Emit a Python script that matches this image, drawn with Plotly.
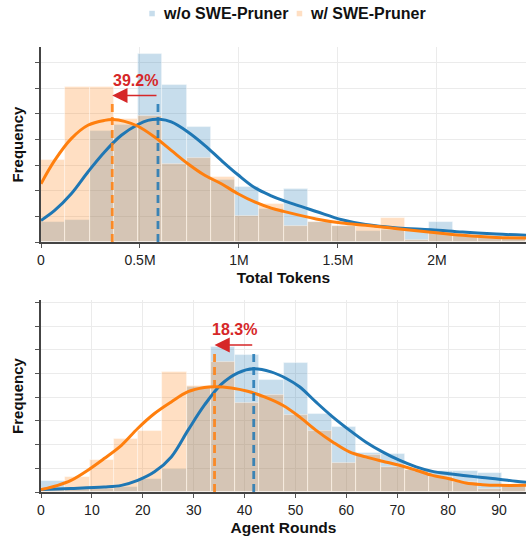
import plotly.graph_objects as go
from plotly.subplots import make_subplots

# ---------------- data ----------------
# Total Tokens histogram (20 bins, starting at 0)
tok_bin_start = 0.0
tok_bin_width = 122500.0
tok_wo = [0.78, 0.84, 4.32, 4.55, 7.31, 6.10, 4.47, 2.40, 2.13, 1.27,
          2.06, 0.79, 0.62, 0.44, 0.48, 0.48, 0.78, 0.25, 0.22, 0.15]
tok_w = [3.18, 6.06, 6.06, 4.81, 4.90, 3.03, 3.26, 2.53, 1.00, 1.49,
         0.61, 0.77, 0.61, 0.61, 0.93, 0.09, 0.35, 0.22, 0.20, 0.15]

# KDE curves
tok_kde_wo_x = [0, 69e3, 153e3, 237e3, 321e3, 406e3, 490e3, 540e3, 600e3, 658e3, 742e3, 827e3,
                911e3, 995e3, 1079e3, 1163e3, 1222e3, 1390e3, 1520e3, 1640e3, 1800e3, 1970e3,
                2130e3, 2300e3, 2450e3]
tok_kde_wo_y = [0.84, 1.23, 1.88, 2.73, 3.51, 4.16, 4.58, 4.74, 4.78, 4.68, 4.29, 3.77,
                3.18, 2.62, 2.12, 1.80, 1.62, 1.19, 0.87, 0.68, 0.55, 0.48,
                0.39, 0.31, 0.26]
tok_kde_w_x = [0, 69e3, 153e3, 237e3, 321e3, 363e3, 422e3, 490e3, 574e3, 658e3, 742e3, 827e3,
               911e3, 995e3, 1079e3, 1163e3, 1222e3, 1390e3, 1520e3, 1640e3, 1800e3, 1970e3,
               2130e3, 2300e3, 2450e3]
tok_kde_w_y = [2.27, 3.18, 4.03, 4.55, 4.74, 4.77, 4.70, 4.51, 4.09, 3.57, 3.05, 2.60,
               2.27, 1.88, 1.56, 1.32, 1.20, 0.90, 0.74, 0.65, 0.52, 0.38,
               0.26, 0.18, 0.16]
tok_median_wo = 591000
tok_median_w = 360000
tok_label = "39.2%"
tok_ticks = [0, 500000, 1000000, 1500000, 2000000]
tok_ticktext = ["0", "0.5M", "1M", "1.5M", "2M"]

# Agent Rounds histogram (20 bins, starting at 0)
rnd_bin_start = 0.0
rnd_bin_width = 4.765
rnd_wo = [0.45, 0.11, 0.14, 0.21, 0.54, 0.96, 4.44, 6.11, 5.77, 4.72,
          5.45, 3.31, 2.75, 1.66, 1.59, 0.94, 0.87, 0.87, 0.79, 0.30]
rnd_w = [0.15, 0.63, 1.37, 2.23, 2.56, 5.06, 4.46, 5.49, 3.76, 4.08,
         3.24, 2.58, 1.23, 1.55, 1.06, 0.94, 0.63, 0.42, 0.11, 0.28]
rnd_kde_wo_x = [0, 5.9, 12.4, 15.8, 19.0, 22.3, 25.6, 28.9, 32.1, 35.4, 38.7, 41.8, 45.2,
                48.2, 50.8, 54.0, 57.3, 60.6, 63.8, 67.1, 70.4, 73.7, 76.9, 80.2, 83.5,
                86.7, 90.0, 93.3, 95.3]
rnd_kde_wo_y = [0.11, 0.15, 0.21, 0.28, 0.49, 0.85, 1.48, 2.61, 3.66, 4.54, 5.03, 5.20, 5.07,
                4.79, 4.44, 3.80, 3.17, 2.61, 2.11, 1.69, 1.34, 1.06, 0.87, 0.77, 0.69,
                0.61, 0.54, 0.45, 0.41]
rnd_kde_w_x = [0, 3.3, 5.9, 9.2, 12.4, 15.8, 19.0, 22.3, 25.6, 28.9, 32.1, 34.1, 37.4, 40.6,
               43.9, 47.5, 50.8, 54.0, 57.3, 60.6, 63.8, 67.1, 70.4, 73.7, 76.9, 80.2,
               83.5, 86.7, 90.0, 95.3]
rnd_kde_w_y = [0.10, 0.28, 0.49, 0.92, 1.41, 1.97, 2.68, 3.31, 3.80, 4.23, 4.41, 4.44, 4.39, 4.25,
               4.01, 3.66, 3.17, 2.61, 2.11, 1.69, 1.48, 1.30, 1.13, 0.92, 0.70, 0.56,
               0.38, 0.31, 0.28, 0.28]
rnd_median_wo = 41.8
rnd_median_w = 34.1
rnd_label = "18.3%"
rnd_ticks = [0, 10, 20, 30, 40, 50, 60, 70, 80, 90]

series_names = ["w/o SWE-Pruner", "w/ SWE-Pruner"]

# ---------------- styling ----------------
BLUE = "#1f77b4"
ORANGE = "#ff7f0e"
RED = "#d62728"
BLUE_FILL = "rgba(31,119,180,0.25)"
ORANGE_FILL = "rgba(255,127,14,0.25)"
FONT = "Liberation Sans, Arial, sans-serif"

W, H = 526, 538
ML, MR, MT, MB = 41, 0, 47, 46
PW, PH = W - ML - MR, H - MT - MB

fig = make_subplots(rows=2, cols=1, vertical_spacing=0.0)


def add_panel(row, start, width, wo, w, kx_wo, ky_wo, kx_w, ky_w,
              med_wo, med_w, dash_top, arrow_y, label, label_y):
    centers = [start + width * (i + 0.5) for i in range(len(wo))]
    for vals, fill in ((wo, BLUE_FILL), (w, ORANGE_FILL)):
        fig.add_trace(go.Bar(x=centers, y=vals, width=width,
                             marker=dict(color=fill,
                                         line=dict(color="rgba(255,255,255,0.5)", width=0.8)),
                             showlegend=False, hoverinfo="skip"), row=row, col=1)
    for kx, ky, col in ((kx_wo, ky_wo, BLUE), (kx_w, ky_w, ORANGE)):
        fig.add_trace(go.Scatter(x=kx, y=ky, mode="lines",
                                 line=dict(color=col, width=3, shape="spline", smoothing=1.0),
                                 showlegend=False, hoverinfo="skip"), row=row, col=1)
    for m, col in ((med_wo, "rgba(31,119,180,0.85)"), (med_w, "rgba(255,127,14,0.85)")):
        fig.add_trace(go.Scatter(x=[m, m], y=[0, dash_top], mode="lines",
                                 line=dict(color=col, width=2.8, dash="8px,5px"),
                                 showlegend=False, hoverinfo="skip"), row=row, col=1)
    xr = "x" if row == 1 else "x2"
    yr = "y" if row == 1 else "y2"
    fig.add_annotation(x=med_w, y=arrow_y, ax=med_wo, ay=arrow_y,
                       xref=xr, yref=yr, axref=xr, ayref=yr,
                       text="", showarrow=True, arrowhead=2, arrowsize=1.9,
                       arrowwidth=1.6, arrowcolor=RED, standoff=0, startstandoff=0)
    fig.add_annotation(x=(med_w + med_wo) / 2, y=label_y, xref=xr, yref=yr,
                       text="<b>%s</b>" % label, showarrow=False,
                       font=dict(family=FONT, size=16, color=RED))


add_panel(1, tok_bin_start, tok_bin_width, tok_wo, tok_w,
          tok_kde_wo_x, tok_kde_wo_y, tok_kde_w_x, tok_kde_w_y,
          tok_median_wo, tok_median_w, 5.52, 5.71, tok_label, 6.3)
add_panel(2, rnd_bin_start, rnd_bin_width, rnd_wo, rnd_w,
          rnd_kde_wo_x, rnd_kde_wo_y, rnd_kde_w_x, rnd_kde_w_y,
          rnd_median_wo, rnd_median_w, 5.99, 6.2, rnd_label, 6.87)

# legend drawn as small squares + bold labels (pixel positions -> paper coords)
def px_x(p):
    return (p - ML) / PW


def px_y(p):
    return 1 - (p - MT) / PH


legend_items = [(series_names[0], BLUE_FILL, 149.3, 161), (series_names[1], ORANGE_FILL, 296.7, 308)]
for name, fill, sq_left, txt_left in legend_items:
    fig.add_shape(type="rect", xref="paper", yref="paper",
                  x0=px_x(sq_left), x1=px_x(sq_left + 5.5), y0=px_y(16.3), y1=px_y(10.8),
                  fillcolor=fill, line=dict(width=0))
    fig.add_annotation(xref="paper", yref="paper", x=px_x(txt_left), y=px_y(13.5),
                       xanchor="left", yanchor="middle", showarrow=False,
                       text="<b>%s</b>" % name,
                       font=dict(family=FONT, size=16, color="#111"))

axis_common = dict(showline=True, linecolor="#444", linewidth=1.5,
                   showgrid=True, gridcolor="#ebebeb", gridwidth=1,
                   ticks="outside", ticklen=4, tickcolor="#555", tickwidth=1,
                   zeroline=False, mirror=False, automargin=False,
                   tickfont=dict(family=FONT, size=14, color="#222"))

fig.update_xaxes(**axis_common)
fig.update_yaxes(**axis_common)

fig.update_xaxes(row=1, col=1, range=[0, 2450000], tickvals=tok_ticks, ticktext=tok_ticktext,
                 title=dict(text="<b>Total Tokens</b>", standoff=6,
                            font=dict(family=FONT, size=15.5, color="#111")))
fig.update_xaxes(row=2, col=1, range=[0, 95.3], tickvals=rnd_ticks,
                 title=dict(text="<b>Agent Rounds</b>", standoff=6,
                            font=dict(family=FONT, size=15.5, color="#111")))
fig.update_yaxes(row=1, col=1, range=[0, 7.6], dtick=1, showticklabels=False,
                 title=dict(text="<b>Frequency</b>", standoff=8,
                            font=dict(family=FONT, size=15, color="#111")))
fig.update_yaxes(row=2, col=1, range=[0, 8.1], dtick=1, showticklabels=False,
                 title=dict(text="<b>Frequency</b>", standoff=8,
                            font=dict(family=FONT, size=15, color="#111")))

fig.update_layout(
    width=W, height=H,
    margin=dict(l=ML, r=MR, t=MT, b=MB, autoexpand=False),
    barmode="overlay", bargap=0,
    plot_bgcolor="white", paper_bgcolor="white",
    font=dict(family=FONT, color="#111"),
    yaxis=dict(domain=[0.5618, 1.0]),
    yaxis2=dict(domain=[0.0, 0.4315]),
    showlegend=False,
)

fig.write_html("out.html", config={"displayModeBar": False},
               post_script="document.body.style.margin='0';document.body.style.overflow='hidden';")
